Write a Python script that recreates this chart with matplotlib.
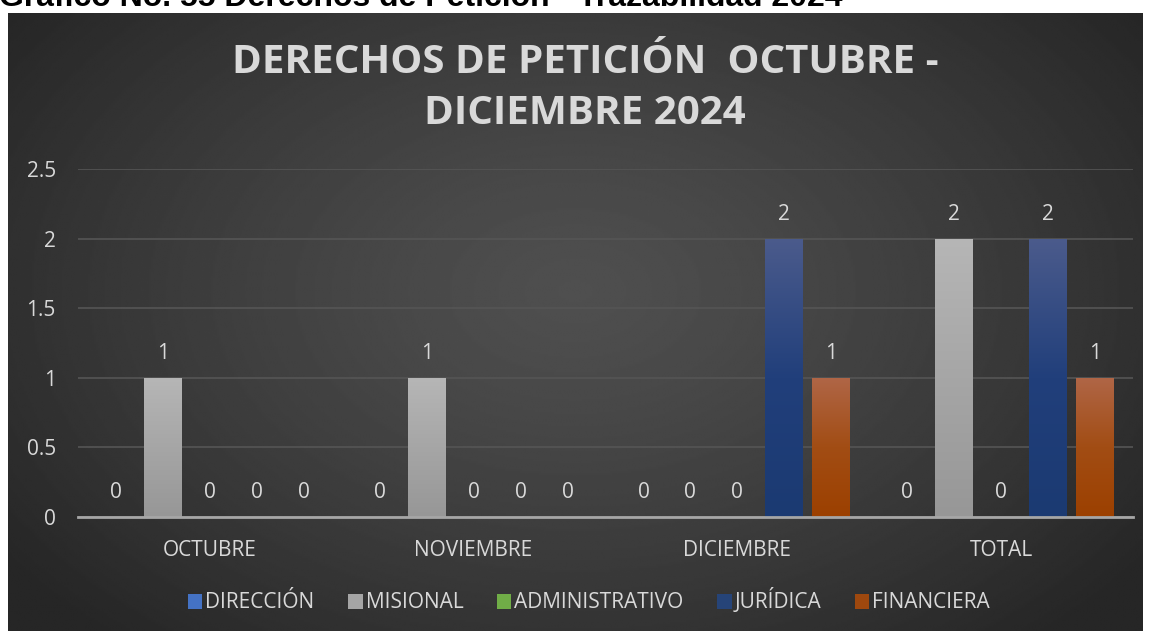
import matplotlib.pyplot as plt
import numpy as np
from matplotlib.colors import LinearSegmentedColormap
from matplotlib.patches import Patch

# data
categories = ["OCTUBRE", "NOVIEMBRE", "DICIEMBRE", "TOTAL"]
series = ["DIRECCIÓN", "MISIONAL", "ADMINISTRATIVO", "JURÍDICA", "FINANCIERA"]
direccion = [0, 0, 0, 0]
misional = [1, 1, 0, 2]
administrativo = [0, 0, 0, 0]
juridica = [0, 0, 2, 2]
financiera = [0, 0, 1, 1]
values = [direccion, misional, administrativo, juridica, financiera]
yticks = [0, 0.5, 1, 1.5, 2, 2.5]

# legend colors and bar gradients (top -> bottom)
LEGEND_COLORS = ["#4472C4", "#A5A5A5", "#70AD47", "#264478", "#9E480E"]
GRADIENTS = [
    ["#6b8fd6", "#4472C4", "#3a64b0"],
    ["#b6b6b6", "#a6a6a6", "#979797"],
    ["#8cc26a", "#70AD47", "#5f9a3a"],
    ["#4b5b8c", "#213f7b", "#1b3a72"],
    ["#b06647", "#a24d14", "#9c4000"],
]
TXT = "#d9d9d9"
FONT = "Open Sans"

W, H = 1149, 631
fig = plt.figure(figsize=(W / 100, H / 100), dpi=100)
fig.patch.set_facecolor("white")

# caption of the document (cut at the top)
fig.text(-0.001, 1 - 6 / H, "Gráfico No. 55 Derechos de Petición - Trazabilidad 2024",
         fontsize=23, fontweight="bold", family="Liberation Sans", color="black",
         ha="left", va="baseline")

# dark chart panel with radial gradient
px0, py0, px1, py1 = 8, 13, 1143, 631
bg = fig.add_axes([px0 / W, 1 - py1 / H, (px1 - px0) / W, (py1 - py0) / H])
yy, xx = np.mgrid[0:1:300j, 0:1:600j]
r = np.sqrt(((xx - 0.5) / 0.62) ** 2 + ((yy - 0.45) / 0.75) ** 2)
r = np.clip(r, 0, 1)
shade = 0.31 - 0.16 * r ** 1.3
bg.imshow(shade, cmap="gray", vmin=0, vmax=1, aspect="auto", extent=[0, 1, 0, 1],
          interpolation="bilinear")
bg.set_xlim(0, 1)
bg.set_ylim(0, 1)
bg.axis("off")

ax = fig.add_axes([78 / W, 1 - 517 / H, (1133 - 78) / W, (517 - 169) / H])
ax.set_facecolor("none")

x = np.arange(len(categories))
step = 0.178
width = 0.144
for i, (vals, stops) in enumerate(zip(values, GRADIENTS)):
    cmap = LinearSegmentedColormap.from_list(f"g{i}", stops[::-1])
    pos = x + (i - 2) * step
    bars = ax.bar(pos, vals, width=width, color=stops[1], zorder=3)
    for b, v in zip(bars, vals):
        if v > 0:
            grad = np.linspace(0, 1, 256).reshape(-1, 1)
            im = ax.imshow(grad, cmap=cmap, aspect="auto", origin="lower",
                           extent=[b.get_x(), b.get_x() + b.get_width(), 0, v],
                           zorder=4)
            im.set_clip_path(b)
        ax.annotate(f"{v:g}", (b.get_x() + b.get_width() / 2, v), xytext=(0, 17.5),
                    textcoords="offset points", ha="center", va="center",
                    color=TXT, fontsize=15, family=FONT, zorder=5)
ax.set_xlim(-0.5, 3.5)
ax.set_ylim(0, 2.5)

ax.set_yticks(yticks)
ax.set_yticklabels([f"{t:g}" for t in yticks])
ax.set_xticks(x)
ax.set_xticklabels(categories)
ax.tick_params(axis="y", length=0, pad=16, labelcolor=TXT, labelsize=15)
ax.tick_params(axis="x", length=0, pad=16.5, labelcolor=TXT, labelsize=15)
for lab in ax.get_xticklabels() + ax.get_yticklabels():
    lab.set_family(FONT)
ax.grid(axis="y", color="#555555", linewidth=1.2, zorder=0)
for s in ["top", "right", "left"]:
    ax.spines[s].set_visible(False)
ax.spines["bottom"].set_color("#a6a6a6")
ax.spines["bottom"].set_linewidth(2)
ax.spines["bottom"].set_zorder(6)

fig.text(585 / W, 1 - 88 / H, "DERECHOS DE PETICIÓN  OCTUBRE -\nDICIEMBRE 2024",
         ha="center", va="center", color=TXT, fontsize=29, fontweight="bold",
         family=FONT, linespacing=1.42)

handles = [Patch(facecolor=c, edgecolor="none") for c in LEGEND_COLORS]
leg = fig.legend(handles, series, loc="center", bbox_to_anchor=(589 / W, 1 - 601 / H),
                 ncol=5, frameon=False, handlelength=0.7, handleheight=0.7,
                 handletextpad=0.15, columnspacing=1.6,
                 prop={"family": FONT, "size": 15})
for t in leg.get_texts():
    t.set_color(TXT)

fig.savefig("out.png", dpi=100, facecolor="white")
